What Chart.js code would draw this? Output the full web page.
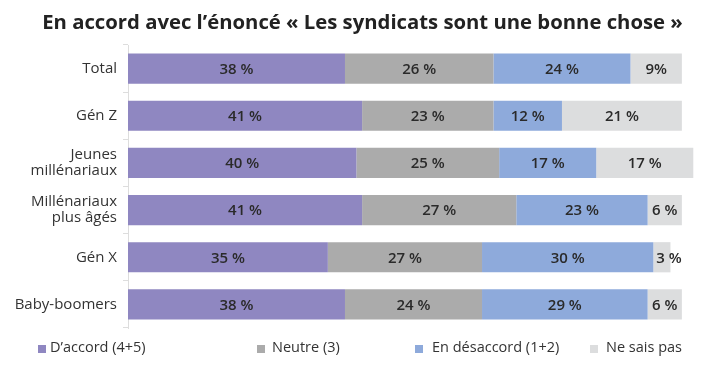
<!DOCTYPE html>
<html lang="fr">
  <head>
    <meta charset="UTF-8" />
    <title>Syndicats</title>
    <style>
      html, body { margin: 0; padding: 0; background: #fff; }
      #wrap { position: relative; width: 715px; height: 367px; }
      #title { position: absolute; top: 9px; left: 22px; width: 681px; text-align: center;
        font-family: "Open Sans", sans-serif; font-weight: bold; font-size: 20.3px; line-height: 24px;
        color: #222; white-space: nowrap; }
      #legend { position: absolute; top: 0; left: 0; width: 715px; height: 367px; pointer-events: none;
        font-family: "Open Sans", sans-serif; font-size: 14.5px; color: #333; }
      #legend i { position: absolute; top: 345px; width: 8px; height: 8px; }
      #legend span { position: absolute; top: 337px; line-height: 20px; white-space: nowrap; }
    </style>
  </head>
  <body>
    <div id="wrap">
      <canvas id="chart" width="715" height="367"></canvas>
      <div id="title">En accord avec l’énoncé « Les syndicats sont une bonne chose »</div>
      <div id="legend"></div>
    </div>

    <script src="https://cdn.jsdelivr.net/npm/chart.js"></script>
    <script>
      const categories = [
        'Total',
        'Gén Z',
        ['Jeunes', 'millénariaux'],
        ['Millénariaux', 'plus âgés'],
        'Gén X',
        'Baby-boomers',
      ];
      const seriesNames = ['D\u2019accord (4+5)', 'Neutre (3)', 'En désaccord (1+2)', 'Ne sais pas'];
      const agree = [38, 41, 40, 41, 35, 38];
      const neutral = [26, 23, 25, 27, 27, 24];
      const disagree = [24, 12, 17, 23, 30, 29];
      const dontKnow = [9, 21, 17, 6, 3, 6];
      const colors = ['#8f87c1', '#ababab', '#8eaadb', '#dcddde'];
      const legendBoxX = [38, 257, 415, 590];
      const legendTextX = [50, 272, 432, 606];

      const font = '"Open Sans", sans-serif';

      // value labels centred in each segment
      const segmentLabels = {
        id: 'segmentLabels',
        afterDatasetsDraw(chart) {
          const ctx = chart.ctx;
          ctx.save();
          ctx.font = '600 15px ' + font;
          ctx.fillStyle = '#2a2a2a';
          ctx.textAlign = 'center';
          ctx.textBaseline = 'middle';
          chart.data.datasets.forEach((ds, i) => {
            chart.getDatasetMeta(i).data.forEach((bar, j) => {
              const v = ds.data[j];
              let txt = v + ' %';
              if (i === 3 && j === 0) txt = v + '%';
              let x = (bar.x + bar.base) / 2;
              if (v < 5) x += 7;
              ctx.fillText(txt, x, bar.y + 1);
            });
          });
          ctx.restore();
        },
      };

      const chart = new Chart(document.getElementById('chart'), {
        type: 'bar',
        data: {
          labels: categories,
          datasets: [agree, neutral, disagree, dontKnow].map((d, i) => ({
            label: seriesNames[i],
            data: d,
            backgroundColor: colors[i],
            barPercentage: 0.64,
            categoryPercentage: 1,
          })),
        },
        options: {
          indexAxis: 'y',
          responsive: false,
          animation: false,
          layout: { padding: { top: 45, left: 0, right: 16, bottom: 39 } },
          scales: {
            x: { stacked: true, min: 0, max: 100, display: false },
            y: {
              stacked: true,
              afterFit: (s) => { s.width = 128; },
              grid: { offset: true, drawOnChartArea: false, tickLength: 5, color: '#dddddd' },
              border: { color: '#dddddd' },
              ticks: { color: '#333', padding: 6, font: { family: font, size: 15, lineHeight: 1.05 } },
            },
          },
          plugins: {
            legend: { display: false },
            tooltip: { enabled: false },
          },
        },
        plugins: [segmentLabels],
      });

      document.getElementById('legend').innerHTML = chart.data.datasets
        .map((ds, i) =>
          `<i style="left:${legendBoxX[i]}px;background:${ds.backgroundColor}"></i>` +
          `<span style="left:${legendTextX[i]}px">${ds.label}</span>`)
        .join('');
    </script>
  </body>
</html>
